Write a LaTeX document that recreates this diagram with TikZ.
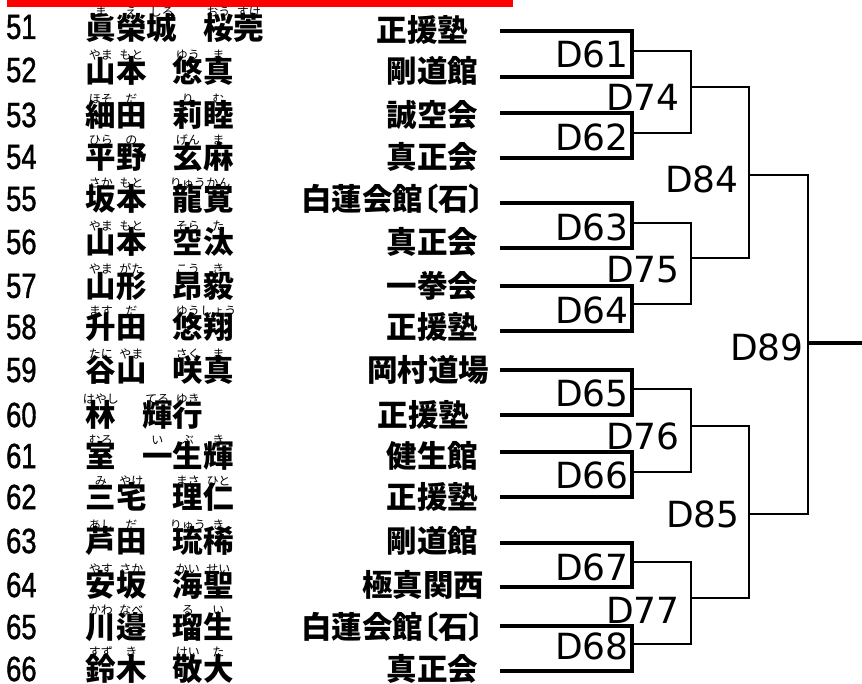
\documentclass[tikz,border=0pt]{standalone}
\usepackage{fontspec}
\newfontfamily\jp{Noto Sans CJK JP}
\newfontfamily\jpp[RawFeature=+palt]{Noto Sans CJK JP}
\newfontfamily\numf[FakeStretch=0.78,FakeBold=1.2]{Liberation Sans}
\newfontfamily\dejavu{DejaVu Sans}
\newcommand\rubyf{\jp\mdseries\fontsize{12}{12}\selectfont}
\newcommand\rb[2]{\setbox0\hbox{#1}\rlap{\makebox[\wd0][c]{\raisebox{23.5pt}[0pt][0pt]{\rubyf #2}}}\box0}
\newcommand\gap{\hspace{26pt}}
\begin{document}
\begin{tikzpicture}[x=1pt,y=1pt,
  num/.style={anchor=west,inner sep=0pt,font=\numf\fontsize{35}{35}\selectfont},
  nm/.style={anchor=west,inner sep=0pt,font=\jp\bfseries\fontsize{30.5}{36}\selectfont},
  dojo/.style={anchor=east,inner sep=0pt,font=\jp\bfseries\fontsize{30.5}{36}\selectfont},
  lbl/.style={anchor=east,inner sep=0pt,font=\dejavu\fontsize{36}{36}\selectfont},
  entry/.style={line width=3.2pt},
  conn/.style={line width=2.7pt}]
\useasboundingbox (0,0) rectangle (862,-684);
\fill[red] (7,0) rectangle (513,-7);
% numbers
\foreach \n/\y in {51/27,52/70,53/115,54/157,55/199,56/242,57/286,58/327,59/370,60/415,61/456,62/497,63/541,64/585,65/627,66/669}
  \node[num] (n\n) at (6,-\y) {\n};
% names
\node[nm] (p51) at (85.5,-28) {\rb{眞}{ま}\rb{榮}{え}\rb{城}{しろ}\gap\rb{桜}{おう}\rb{莞}{すけ}};
\node[nm] (p52) at (85.5,-71) {\rb{山}{やま}\rb{本}{もと}\gap\rb{悠}{ゆう}\rb{真}{ま}};
\node[nm] (p53) at (85.5,-115) {\rb{細}{ほそ}\rb{田}{だ}\gap\rb{莉}{り}\rb{睦}{む}};
\node[nm] (p54) at (85.5,-157) {\rb{平}{ひら}\rb{野}{の}\gap\rb{玄}{げん}\rb{麻}{ま}};
\node[nm] (p55) at (85.5,-199) {\rb{坂}{さか}\rb{本}{もと}\gap\rb{龍}{りゅう}\rb{寛}{かん}};
\node[nm] (p56) at (85.5,-242) {\rb{山}{やま}\rb{本}{もと}\gap\rb{空}{そら}\rb{汰}{た}};
\node[nm] (p57) at (85.5,-286) {\rb{山}{やま}\rb{形}{がた}\gap\rb{昂}{こう}\rb{毅}{き}};
\node[nm] (p58) at (85.5,-327) {\rb{升}{ます}\rb{田}{だ}\gap\rb{悠}{ゆう}\rb{翔}{しょう}};
\node[nm] (p59) at (85.5,-370) {\rb{谷}{たに}\rb{山}{やま}\gap\rb{咲}{さく}\rb{真}{ま}};
\node[nm] (p60) at (85.5,-415) {\rb{林}{はやし}\gap\rb{輝}{てる}\rb{行}{ゆき}};
\node[nm] (p61) at (85.5,-456) {\rb{室}{むろ}\gap\rb{一}{い}\rb{生}{ぶ}\rb{輝}{き}};
\node[nm] (p62) at (85.5,-497) {\rb{三}{み}\rb{宅}{やけ}\gap\rb{理}{まさ}\rb{仁}{ひと}};
\node[nm] (p63) at (85.5,-541) {\rb{芦}{あし}\rb{田}{だ}\gap\rb{琉}{りゅう}\rb{稀}{き}};
\node[nm] (p64) at (85.5,-585) {\rb{安}{やす}\rb{坂}{さか}\gap\rb{海}{かい}\rb{聖}{せい}};
\node[nm] (p65) at (85.5,-627) {\rb{川}{かわ}\rb{邉}{なべ}\gap\rb{瑠}{る}\rb{生}{い}};
\node[nm] (p66) at (85.5,-669) {\rb{鈴}{すず}\rb{木}{き}\gap\rb{敬}{けい}\rb{大}{た}};
% dojo
\node[dojo] (d51) at (468.5,-30) {正援塾};
\node[dojo] (d52) at (478.5,-71) {剛道館};
\node[dojo] (d53) at (478.5,-115) {誠空会};
\node[dojo] (d54) at (478.5,-157) {真正会};
\node[dojo] (d55) at (484.5,-199) {白蓮会館{\jpp〔}石{\jpp〕}};
\node[dojo] (d56) at (478.5,-242) {真正会};
\node[dojo] (d57) at (478.5,-286) {一拳会};
\node[dojo] (d58) at (478.5,-327) {正援塾};
\node[dojo] (d59) at (489.5,-370) {岡村道場};
\node[dojo] (d60) at (469.5,-415) {正援塾};
\node[dojo] (d61) at (478.5,-456) {健生館};
\node[dojo] (d62) at (478.5,-497) {正援塾};
\node[dojo] (d63) at (478.5,-541) {剛道館};
\node[dojo] (d64) at (484.5,-585) {極真関西};
\node[dojo] (d65) at (484.5,-627) {白蓮会館{\jpp〔}石{\jpp〕}};
\node[dojo] (d66) at (478.5,-669) {真正会};
% first round boxes
\foreach \a/\b in {31/77,113/158,203/248,286/331,370/415,452/497,543/587,626/671}
  \draw[entry] (500,-\a) -- (632,-\a) -- (632,-\b) -- (500,-\b);
% second round
\foreach \a/\b in {51/133,223/304,389/472,562/644}
  \draw[conn] (632,-\a) -- (691,-\a) -- (691,-\b) -- (632,-\b);
% third round
\foreach \a/\b in {87/258,426/598}
  \draw[conn] (691,-\a) -- (749,-\a) -- (749,-\b) -- (691,-\b);
% fourth round
\draw[conn] (749,-175) -- (808,-175) -- (808,-514) -- (749,-514);
\coordinate (out) at (862,-343);
\draw[entry] (808,-343) -- (out);
% labels
\node[lbl] (D61) at (629,-54) {D61};
\node[lbl] (D62) at (629,-137) {D62};
\node[lbl] (D63) at (629,-227) {D63};
\node[lbl] (D64) at (629,-310) {D64};
\node[lbl] (D65) at (629,-393) {D65};
\node[lbl] (D66) at (629,-475) {D66};
\node[lbl] (D67) at (629,-567) {D67};
\node[lbl] (D68) at (629,-646) {D68};
\node[lbl] (D74) at (680,-97) {D74};
\node[lbl] (D75) at (680,-270) {D75};
\node[lbl] (D76) at (680,-436) {D76};
\node[lbl] (D77) at (680,-610) {D77};
\node[lbl] (D84) at (739,-179) {D84};
\node[lbl] (D85) at (740,-514) {D85};
\node[lbl] (D89) at (804,-347) {D89};
\end{tikzpicture}
\end{document}
